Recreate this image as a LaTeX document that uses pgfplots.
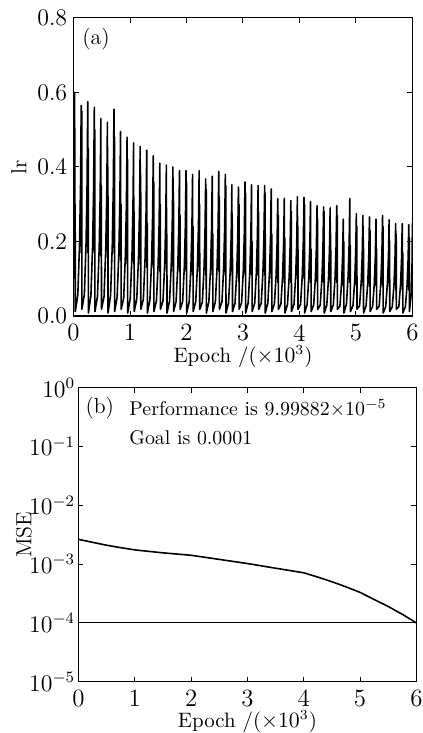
\documentclass[border=0pt]{standalone}
\usepackage{pgfplots}
\pgfplotsset{compat=1.18}

\pgfplotsset{
  panel/.style={
    scale only axis,
    width=170.5pt,
    tick align=inside,
    major tick length=2.5pt,
    axis line style={line width=0.6pt},
    every tick/.style={black, line width=0.5pt},
    font=\fontsize{11}{13}\selectfont,
    tick label style={font=\fontsize{12.5}{14}\selectfont},
    xmin=0, xmax=6000,
    xtick={0,1000,2000,3000,4000,5000,6000},
    xticklabels={0,1,2,3,4,5,6},
    scaled x ticks=false,
    xticklabel style={inner sep=0pt, anchor=north, yshift=-4pt},
    xlabel={Epoch /(${\times}10^3$)},
    xlabel style={font=\fontsize{10.5}{12}\selectfont, inner sep=0pt,
      at={(axis description cs:0.5,0)}, anchor=north, yshift=-14.5pt},
    ylabel style={inner sep=0pt, at={(axis description cs:0,0.5)},
      anchor=center, yshift=27.5pt},
  },
}

\begin{document}
\begin{tikzpicture}
% (a) learning rate
\begin{axis}[panel,
  name=top,
  height=150pt,
  ymin=0, ymax=0.8,
  ytick={0,0.2,0.4,0.6,0.8},
  yticklabel style={inner sep=0pt, xshift=-3pt,
    /pgf/number format/.cd, fixed, fixed zerofill, precision=1},
  ylabel={lr},
]
\addplot[black, line width=0.8pt, line join=round, mark=none] coordinates {
(0,0.10)(8,0.372)(20,0.60)(23,0.18)(29,0.30)
(31,0.012)(76,0.057)(106,0.192)(124,0.350)(136,0.565)(139,0.17)(145,0.55)
(147,0.018)(192,0.058)(222,0.196)(240,0.357)(252,0.575)(255,0.17)(261,0.45)
(263,0.008)(308,0.056)(338,0.190)(356,0.347)(368,0.56)(371,0.17)(377,0.50)
(379,0.012)(424,0.053)(454,0.180)(472,0.329)(484,0.53)(487,0.16)(493,0.35)
(495,0.018)(540,0.052)(570,0.177)(588,0.322)(600,0.52)(603,0.16)(609,0.40)
(611,0.008)(656,0.056)(686,0.189)(704,0.344)(716,0.555)(719,0.17)(725,0.48)
(727,0.012)(772,0.050)(802,0.168)(820,0.307)(832,0.495)(835,0.15)(841,0.30)
(843,0.018)(888,0.048)(918,0.163)(936,0.298)(948,0.48)(951,0.14)(957,0.42)
(959,0.008)(1004,0.047)(1034,0.158)(1052,0.288)(1064,0.465)(1067,0.14)(1073,0.28)
(1075,0.012)(1120,0.046)(1150,0.155)(1168,0.282)(1180,0.455)(1183,0.14)(1189,0.38)
(1191,0.018)(1236,0.045)(1266,0.151)(1284,0.276)(1296,0.445)(1299,0.13)(1305,0.25)
(1307,0.008)(1352,0.043)(1382,0.146)(1400,0.267)(1412,0.43)(1415,0.13)(1421,0.36)
(1423,0.012)(1468,0.041)(1498,0.139)(1516,0.254)(1528,0.41)(1531,0.12)(1537,0.30)
(1539,0.018)(1584,0.041)(1614,0.138)(1632,0.251)(1644,0.405)(1647,0.12)(1653,0.22)
(1655,0.008)(1700,0.040)(1730,0.136)(1748,0.248)(1760,0.40)(1763,0.12)(1769,0.33)
(1771,0.012)(1816,0.039)(1846,0.133)(1864,0.242)(1876,0.39)(1879,0.12)(1885,0.27)
(1887,0.018)(1932,0.039)(1962,0.133)(1980,0.242)(1992,0.39)(1995,0.12)(2001,0.36)
(2003,0.008)(2048,0.038)(2078,0.129)(2096,0.236)(2108,0.38)(2111,0.11)(2117,0.24)
(2119,0.012)(2164,0.039)(2194,0.133)(2212,0.242)(2224,0.39)(2227,0.12)(2233,0.30)
(2235,0.018)(2280,0.037)(2310,0.125)(2328,0.228)(2340,0.368)(2343,0.11)(2349,0.34)
(2351,0.008)(2396,0.038)(2426,0.128)(2444,0.233)(2456,0.375)(2459,0.11)(2465,0.22)
(2467,0.012)(2512,0.039)(2542,0.132)(2560,0.241)(2572,0.388)(2575,0.12)(2581,0.32)
(2583,0.018)(2628,0.038)(2658,0.129)(2676,0.236)(2688,0.38)(2691,0.11)(2697,0.35)
(2699,0.008)(2744,0.035)(2774,0.120)(2792,0.218)(2804,0.352)(2807,0.11)(2813,0.25)
(2815,0.012)(2860,0.035)(2890,0.118)(2908,0.215)(2920,0.346)(2923,0.10)(2929,0.30)
(2931,0.018)(2976,0.036)(3006,0.122)(3024,0.223)(3036,0.36)(3039,0.11)(3045,0.33)
(3047,0.008)(3092,0.035)(3122,0.120)(3140,0.218)(3152,0.352)(3155,0.11)(3161,0.20)
(3163,0.012)(3208,0.035)(3238,0.119)(3256,0.217)(3268,0.35)(3271,0.11)(3277,0.28)
(3279,0.018)(3324,0.035)(3354,0.119)(3372,0.217)(3384,0.35)(3387,0.11)(3393,0.33)
(3395,0.008)(3440,0.034)(3470,0.116)(3488,0.211)(3500,0.341)(3503,0.10)(3509,0.22)
(3511,0.012)(3556,0.032)(3586,0.107)(3604,0.195)(3616,0.315)(3619,0.09)(3625,0.27)
(3627,0.018)(3672,0.032)(3702,0.107)(3720,0.196)(3732,0.316)(3735,0.09)(3741,0.21)
(3743,0.008)(3788,0.031)(3818,0.105)(3836,0.192)(3848,0.31)(3851,0.09)(3857,0.28)
(3859,0.012)(3904,0.032)(3934,0.109)(3952,0.198)(3964,0.32)(3967,0.10)(3973,0.24)
(3975,0.018)(4020,0.032)(4050,0.108)(4068,0.197)(4080,0.318)(4083,0.10)(4089,0.30)
(4091,0.008)(4136,0.031)(4166,0.104)(4184,0.190)(4196,0.307)(4199,0.09)(4205,0.18)
(4207,0.012)(4252,0.030)(4282,0.101)(4300,0.184)(4312,0.296)(4315,0.09)(4321,0.26)
(4323,0.018)(4368,0.029)(4398,0.100)(4416,0.182)(4428,0.293)(4431,0.09)(4437,0.28)
(4439,0.008)(4484,0.029)(4514,0.099)(4532,0.180)(4544,0.29)(4547,0.09)(4553,0.22)
(4555,0.012)(4600,0.030)(4630,0.101)(4648,0.184)(4660,0.296)(4663,0.09)(4669,0.27)
(4671,0.018)(4716,0.026)(4746,0.088)(4764,0.161)(4776,0.26)(4779,0.08)(4785,0.20)
(4787,0.008)(4832,0.032)(4862,0.107)(4880,0.195)(4892,0.315)(4895,0.09)(4901,0.19)
(4903,0.012)(4948,0.028)(4978,0.094)(4996,0.171)(5008,0.275)(5011,0.08)(5017,0.24)
(5019,0.018)(5064,0.027)(5094,0.092)(5112,0.167)(5124,0.27)(5127,0.08)(5133,0.21)
(5135,0.008)(5180,0.027)(5210,0.090)(5228,0.165)(5240,0.266)(5243,0.08)(5249,0.23)
(5251,0.012)(5296,0.026)(5326,0.088)(5344,0.161)(5356,0.26)(5359,0.08)(5365,0.18)
(5367,0.018)(5412,0.027)(5442,0.092)(5460,0.167)(5472,0.27)(5475,0.08)(5481,0.24)
(5483,0.008)(5528,0.026)(5558,0.088)(5576,0.160)(5588,0.258)(5591,0.08)(5597,0.20)
(5599,0.012)(5644,0.025)(5674,0.084)(5692,0.154)(5704,0.248)(5707,0.07)(5713,0.22)
(5715,0.018)(5760,0.025)(5790,0.084)(5808,0.154)(5820,0.248)(5823,0.07)(5829,0.17)
(5831,0.008)(5876,0.025)(5906,0.083)(5924,0.152)(5936,0.245)(5939,0.07)(5945,0.21)
(5947,0.012)(5980,0.06)(5995,0.15)(6000,0.25)
};
\node[anchor=west] at (rel axis cs:0.005,0.93) {(a)};
\end{axis}

% (b) performance
\begin{axis}[panel,
  at={(top.south west)}, anchor=north west, xshift=2.5pt, yshift=-36pt,
  width=170pt, height=148pt,
  ymode=log,
  ymin=1e-5, ymax=1,
  ytick={1e-5,1e-4,1e-3,1e-2,1e-1,1},
  yminorticks=false,
  yticklabel style={inner sep=0pt, xshift=-1.5pt, font=\fontsize{12}{14}\selectfont},
  ylabel={MSE},
]
\addplot[black, line width=0.8pt, mark=none] coordinates {
(0,2.63e-3)(250,2.34e-3)(500,2.09e-3)(750,1.90e-3)(1000,1.74e-3)
(1500,1.55e-3)(2000,1.41e-3)(2500,1.20e-3)(3000,1.02e-3)(3500,8.5e-4)
(4000,7.1e-4)(4250,6.0e-4)(4500,5.0e-4)(4750,4.1e-4)(5000,3.3e-4)
(5250,2.5e-4)(5500,1.9e-4)(5750,1.4e-4)(6000,9.99882e-5)
};
\addplot[black, line width=0.6pt, mark=none] coordinates {(0,1e-4)(6000,1e-4)};
\node[anchor=west] at (rel axis cs:0.0,0.93) {(b)};
\node[anchor=west, font=\fontsize{10}{12}\selectfont] at (rel axis cs:0.13,0.93) {Performance is $9.99882{\times}10^{-5}$};
\node[anchor=west, font=\fontsize{10}{12}\selectfont] at (rel axis cs:0.13,0.83) {Goal is 0.0001};
\end{axis}

\path ([xshift=-37pt,yshift=9pt]top.north west) rectangle ([xshift=175.5pt,yshift=-359pt]top.north west);
\end{tikzpicture}
\end{document}
